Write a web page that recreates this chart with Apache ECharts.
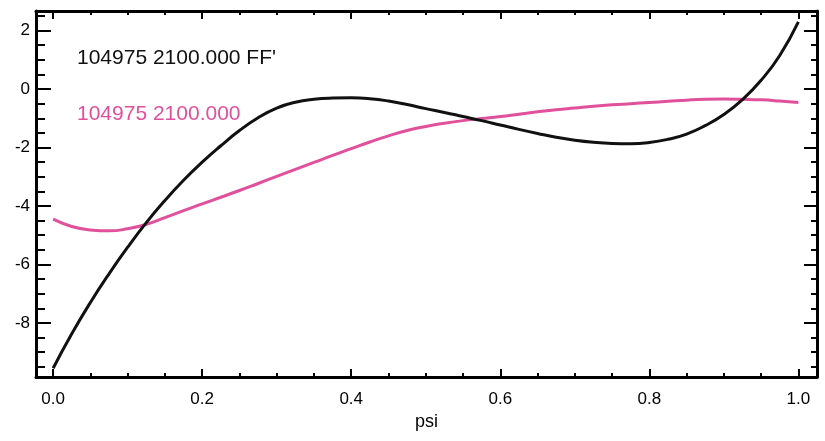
<!DOCTYPE html>
<html>
<head>
<meta charset="utf-8">
<script src="https://cdn.jsdelivr.net/npm/echarts@6/dist/echarts.min.js"></script>
<style>
  html, body { margin: 0; padding: 0; background: #fff; }
  #chart { width: 825px; height: 441px; }
</style>
</head>
<body>
<div id="chart"></div>
<script>
// values, both curves on the same psi grid
const psi = [0, 0.025, 0.05, 0.075, 0.1, 0.125, 0.15, 0.175, 0.2, 0.225,
             0.25, 0.275, 0.3, 0.325, 0.35, 0.375, 0.4, 0.425, 0.45, 0.475,
             0.5, 0.525, 0.55, 0.575, 0.6, 0.625, 0.65, 0.675, 0.7, 0.725,
             0.75, 0.775, 0.8, 0.825, 0.85, 0.875, 0.9, 0.925, 0.95, 0.975, 1.0];
const ffpBlack = [-9.55, -8.37, -7.3, -6.32, -5.41, -4.57, -3.81, -3.12, -2.5, -1.94,
                  -1.42, -0.98, -0.65, -0.45, -0.35, -0.31, -0.3, -0.33, -0.41, -0.53,
                  -0.67, -0.8, -0.94, -1.08, -1.23, -1.38, -1.52, -1.65, -1.75, -1.82,
                  -1.86, -1.87, -1.83, -1.72, -1.54, -1.25, -0.87, -0.36, 0.3, 1.15, 2.3];
const curvePink = [-4.45, -4.7, -4.82, -4.85, -4.78, -4.63, -4.4, -4.16, -3.93, -3.7,
                   -3.47, -3.23, -2.99, -2.75, -2.51, -2.27, -2.04, -1.81, -1.6, -1.42,
                   -1.28, -1.17, -1.08, -1.01, -0.94, -0.86, -0.78, -0.71, -0.65, -0.59,
                   -0.54, -0.5, -0.46, -0.42, -0.38, -0.35, -0.34, -0.35, -0.37, -0.41, -0.46];
const xTicks = [0, 0.2, 0.4, 0.6, 0.8, 1.0];
const yTicks = [-8, -6, -4, -2, 0, 2];
const labelBlack = "104975 2100.000 FF'";
const labelPink = "104975 2100.000";

const FONT = "'Liberation Sans', Arial, sans-serif";
const PINK = "#e0509b";

function minors(lo, hi, step, majors) {
  const out = [];
  for (let v = lo; v <= hi + 1e-9; v += step) {
    const r = Math.round(v * 1000) / 1000;
    if (!majors.some(m => Math.abs(m - r) < 1e-6)) out.push(r);
  }
  return out;
}
const xMinor = minors(0, 1, 0.05, xTicks);
const yMinor = minors(-9.5, 2.5, 0.5, yTicks);

const X_MIN = -0.023, X_MAX = 1.025, Y_MIN = -9.85, Y_MAX = 2.67;

function xAx(pos, ticks, len, withLine, withLabel) {
  return {
    type: "value", position: pos, min: X_MIN, max: X_MAX,
    axisLine: { show: withLine, onZero: false, lineStyle: { color: "#000", width: 3 } },
    axisTick: { show: true, inside: true, length: len, customValues: ticks,
                lineStyle: { color: "#000", width: 2 } },
    axisLabel: withLabel ? { show: true, customValues: ticks, formatter: v => v.toFixed(1),
                color: "#000", fontSize: 17, fontFamily: FONT, margin: 14 } : { show: false },
    splitLine: { show: false }
  };
}
function yAx(pos, ticks, len, withLine, withLabel) {
  return {
    type: "value", position: pos, min: Y_MIN, max: Y_MAX,
    axisLine: { show: withLine, onZero: false, lineStyle: { color: "#000", width: 3 } },
    axisTick: { show: true, inside: true, length: len, customValues: ticks,
                lineStyle: { color: "#000", width: 2 } },
    axisLabel: withLabel ? { show: true, customValues: ticks, formatter: v => String(v),
                color: "#000", fontSize: 17, fontFamily: FONT, margin: 6 } : { show: false },
    splitLine: { show: false }
  };
}

const xMain = xAx("bottom", xTicks, 8, true, true);
xMain.name = "psi";
xMain.nameLocation = "middle";
xMain.nameGap = 35;
xMain.nameTextStyle = { color: "#000", fontSize: 18, fontFamily: FONT };

const chart = echarts.init(document.getElementById("chart"), null, { renderer: "canvas" });
chart.setOption({
  animation: false,
  backgroundColor: "#fff",
  grid: { left: 36, right: 8, top: 11, bottom: 64, containLabel: false },
  xAxis: [
    xMain,
    xAx("bottom", xMinor, 4, false, false),
    xAx("top", xTicks, 8, true, false),
    xAx("top", xMinor, 4, false, false)
  ],
  yAxis: [
    yAx("left", yTicks, 15, true, true),
    yAx("left", yMinor, 9, false, false),
    yAx("right", yTicks, 13, true, false),
    yAx("right", yMinor, 6, false, false)
  ],
  graphic: [
    { type: "text", left: 77, top: 48,
      style: { text: labelBlack, fill: "#111", font: "21px " + FONT } },
    { type: "text", left: 77, top: 104,
      style: { text: labelPink, fill: PINK, font: "21px " + FONT } }
  ],
  series: [
    {
      name: labelPink, type: "line", smooth: 0.5, showSymbol: false,
      xAxisIndex: 0, yAxisIndex: 0,
      data: psi.map((p, i) => [p, curvePink[i]]),
      lineStyle: { color: PINK, width: 3 }
    },
    {
      name: labelBlack, type: "line", smooth: 0.5, showSymbol: false,
      xAxisIndex: 0, yAxisIndex: 0,
      data: psi.map((p, i) => [p, ffpBlack[i]]),
      lineStyle: { color: "#111", width: 3 }
    }
  ]
});
</script>
</body>
</html>
